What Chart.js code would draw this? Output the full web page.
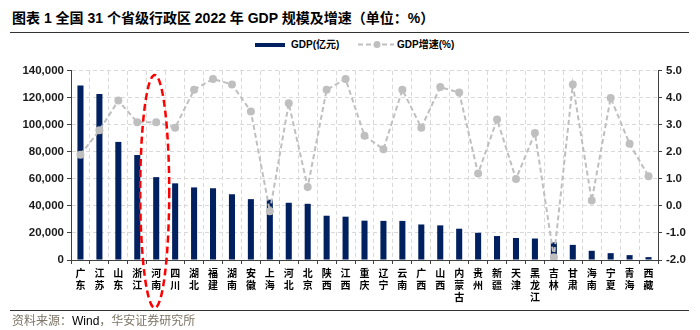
<!DOCTYPE html>
<html>
<head>
<meta charset="utf-8">
<script src="https://cdn.jsdelivr.net/npm/chart.js@4/dist/chart.umd.min.js"></script>
<style>
  html, body { margin: 0; padding: 0; background: #fff; }
  body { width: 700px; height: 330px; position: relative; overflow: hidden;
         font-family: 'Liberation Sans', 'Noto Sans CJK SC', sans-serif; }
  .title { position: absolute; left: 12px; top: 7px; font-size: 14px; font-weight: bold; color: #000;
           font-family: 'Liberation Sans', 'Noto Sans CJK SC', sans-serif; white-space: nowrap; }
  .rule { position: absolute; left: 10px; width: 679px; height: 0; border-top: 1.5px solid #333; }
  .legend { position: absolute; top: 37px; height: 15px; font-size: 10px; font-weight: bold; color: #000;
            line-height: 15px; white-space: nowrap; }
  .swatch { position: absolute; left: 255px; top: 42.5px; width: 30px; height: 4px; background: #002060; }
  .source { position: absolute; left: 12px; top: 312px; font-size: 12px; line-height: 16px; white-space: nowrap;
            font-family: 'Noto Sans CJK SC', sans-serif; color: #7d7466; }
  .source b { font-weight: normal; color: #000; font-family: 'Liberation Sans', sans-serif; }
  canvas { position: absolute; left: 0; top: 60px; }
</style>
</head>
<body>
<div class="title">图表 1 全国 31 个省级行政区 2022 年 GDP 规模及增速（单位：%）</div>
<div class="rule" style="top:32px"></div>

<div class="swatch"></div>
<div class="legend" style="left:291px">GDP(亿元)</div>
<svg style="position:absolute;left:357px;top:39px" width="38" height="11">
  <line x1="1" y1="5.5" x2="37" y2="5.5" stroke="#bfbfbf" stroke-width="2" stroke-dasharray="5,3"/>
  <circle cx="20" cy="5.5" r="3.5" fill="#bfbfbf"/>
</svg>
<div class="legend" style="left:397px">GDP增速(%)</div>

<canvas id="chart" width="700" height="252"></canvas>

<div class="rule" style="top:310px"></div>
<div class="source">资料来源：<b>Wind</b>，华安证券研究所</div>

<script>
const provinces = ['广东', '江苏', '山东', '浙江', '河南', '四川', '湖北', '福建', '湖南', '安徽',
  '上海', '河北', '北京', '陕西', '江西', '重庆', '辽宁', '云南', '广西', '山西',
  '内蒙古', '贵州', '新疆', '天津', '黑龙江', '吉林', '甘肃', '海南', '宁夏', '青海', '西藏']

// GDP, 亿元
const gdp = [129118, 122876, 87435, 77715, 61345, 56750, 53735, 53110, 48670, 45045,
  44653, 42370, 41611, 32773, 32075, 29129, 28975, 28954, 26301, 25643,
  23159, 20165, 17741, 16311, 15901, 13070, 11201, 6818, 5070, 3610, 2133]

// GDP 增速, %
const growth = [1.9, 2.8, 3.9, 3.1, 3.1, 2.9, 4.3, 4.7, 4.5, 3.5,
  -0.2, 3.8, 0.7, 4.3, 4.7, 2.6, 2.1, 4.3, 2.9, 4.4,
  4.2, 1.2, 3.2, 1.0, 2.7, -1.9, 4.5, 0.2, 4.0, 2.3, 1.1]

const highlight = '河南'

const gridColor = '#d9d9d9'
const axisColor = '#404040'
const numFont = {family: "'Liberation Sans', sans-serif", size: 11.5, weight: 'bold'}

// red dashed ellipse around the highlighted province
const ellipsePlugin = {
  id: 'ellipse',
  afterDraw(chart) {
    const c = chart.ctx
    const area = chart.chartArea
    const x = chart.scales.x.getPixelForValue(provinces.indexOf(highlight)) - 1.5
    const top = area.top + 4
    const bottom = area.bottom + 48
    c.save()
    c.beginPath()
    c.ellipse(x, (top + bottom) / 2, 14.5, (bottom - top) / 2, 0, 0, Math.PI * 2)
    c.strokeStyle = '#ff0000'
    c.lineWidth = 2.5
    c.setLineDash([7, 4])
    c.stroke()
    c.restore()
  }
}

new Chart(document.getElementById('chart'), {
  data: {
    labels: provinces.map(p => p.split('')),
    datasets: [
      {
        type: 'bar',
        label: 'GDP(亿元)',
        data: gdp,
        backgroundColor: '#002060',
        categoryPercentage: 1,
        barPercentage: 0.32,
        yAxisID: 'y',
        order: 2
      },
      {
        type: 'line',
        label: 'GDP增速(%)',
        data: growth,
        borderColor: '#bfbfbf',
        borderWidth: 2,
        borderDash: [5, 3],
        pointRadius: 4,
        pointBackgroundColor: '#bfbfbf',
        pointBorderWidth: 0,
        tension: 0,
        yAxisID: 'y1',
        order: 1
      }
    ]
  },
  options: {
    responsive: false,
    animation: false,
    layout: {padding: {top: 10, left: 0, right: 0, bottom: 0}},
    plugins: {legend: {display: false}, tooltip: {enabled: false}},
    scales: {
      x: {
        offset: true,
        grid: {offset: true, color: gridColor, tickColor: axisColor, tickLength: 4, tickBorderDash: []},
        border: {color: axisColor, width: 1, dash: [4, 3]},
        ticks: {
          autoSkip: false, maxRotation: 0, minRotation: 0, padding: 3, color: '#000',
          font: {family: "'Noto Sans CJK SC', sans-serif", size: 10, weight: 'bold', lineHeight: 1.2}
        },
        afterFit(scale) { scale.height = 52 }
      },
      y: {
        position: 'left',
        min: 0,
        max: 140000,
        grid: {color: gridColor, tickColor: axisColor, tickLength: 4, tickBorderDash: []},
        border: {color: axisColor, width: 1, dash: [4, 3]},
        ticks: {
          stepSize: 20000, padding: 3, color: '#1a1a1a', font: numFont,
          callback: v => v.toLocaleString('en-US')
        },
        afterFit(scale) { scale.width = 71 }
      },
      y1: {
        position: 'right',
        min: -2,
        max: 5,
        grid: {drawOnChartArea: false, tickColor: axisColor, tickLength: 4},
        border: {color: axisColor, width: 1},
        ticks: {
          stepSize: 1, padding: 4, color: '#1a1a1a', font: numFont,
          callback: v => v.toFixed(1)
        },
        afterFit(scale) { scale.width = 42 }
      }
    }
  },
  plugins: [ellipsePlugin]
})
</script>
</body>
</html>
